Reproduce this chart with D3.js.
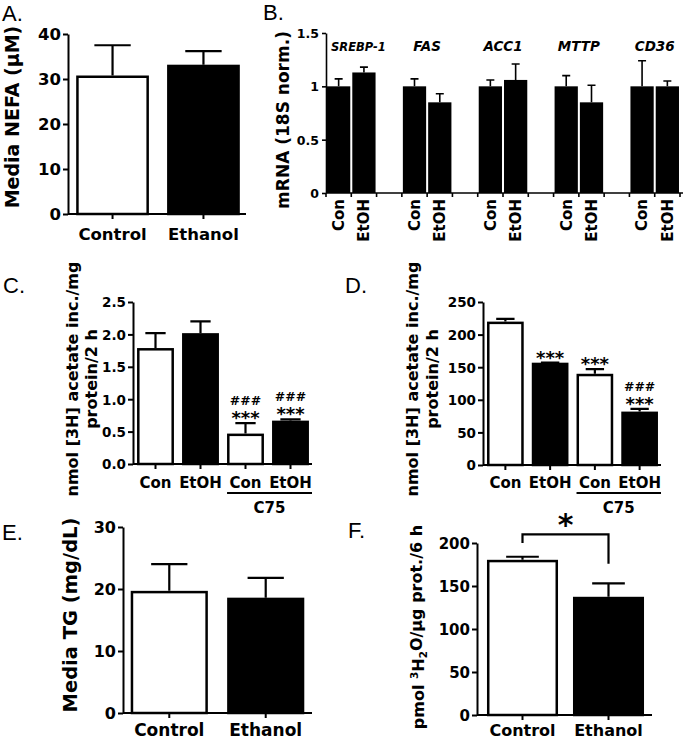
<!DOCTYPE html>
<html><head><meta charset="utf-8">
<script src="https://cdn.jsdelivr.net/npm/d3@7"></script>
<style>
html,body{margin:0;padding:0;background:#fff;}
svg{display:block;}
text{font-family:"DejaVu Sans",sans-serif;font-weight:bold;fill:#000;}
text.letter{font-family:"Liberation Sans",Arial,sans-serif;font-weight:normal;font-size:22px;}
</style></head><body>
<svg id="fig" width="685" height="742"></svg>
<script>
// ---------- DATA ----------
// Panel A: Media NEFA (uM)
const catsA = ["Control", "Ethanol"];
const valsA = [30.5, 32.9];
const errA = [37.5, 36.2];
const ticksA = [0, 10, 20, 30, 40];
// Panel B: mRNA (18S norm.)
const genesB = ["SREBP-1", "FAS", "ACC1", "MTTP", "CD36"];
const groupsB = ["Con", "EtOH"];
const conB = [1.0, 1.0, 1.0, 1.0, 1.0];
const conErrB = [1.07, 1.07, 1.06, 1.10, 1.24];
const etohB = [1.13, 0.85, 1.06, 0.85, 1.0];
const etohErrB = [1.18, 0.93, 1.21, 1.01, 1.05];
const ticksB = [0, 0.5, 1, 1.5];
// Panels C & D
const catsCD = ["Con", "EtOH", "Con", "EtOH"];
const groupLabelCD = "C75";
const valsC = [1.77, 2.0, 0.45, 0.65];
const errC = [2.02, 2.2, 0.63, 0.69];
const ticksC = [0, 0.5, 1.0, 1.5, 2.0, 2.5];
const annotC = [[], [], ["###", "***"], ["###", "***"]];
const valsD = [218, 155, 138, 80];
const errD = [224, 157, 147, 86];
const ticksD = [0, 50, 100, 150, 200, 250];
const annotD = [[], ["***"], ["***"], ["###", "***"]];
// Panel E: Media TG (mg/dL)
const catsE = ["Control", "Ethanol"];
const valsE = [19.5, 18.4];
const errE = [24.0, 21.8];
const ticksE = [0, 10, 20, 30];
// Panel F
const catsF = ["Control", "Ethanol"];
const valsF = [179, 136];
const errF = [184, 153];
const ticksF = [0, 50, 100, 150, 200];
const bracketF = { top: 210, left: 200, right: 176, label: "*" };

const fillsTwo = ["#fff", "#000"];
const fillsFour = ["#fff", "#000", "#fff", "#000"];

// ---------- DRAW ----------
const svg = d3.select("#fig");

function vtitle(lines, cx, cy, size, gap) {
  lines.forEach((ln, k) => {
    const t = svg.append("text")
      .attr("transform", `translate(${cx + k * gap},${cy}) rotate(-90)`)
      .attr("text-anchor", "middle").attr("dy", "0.36em")
      .attr("font-size", size);
    if (typeof ln === "string") t.text(ln);
    else ln(t);
  });
}
function letter(s, x, y) {
  svg.append("text").attr("class", "letter").attr("x", x).attr("y", y).text(s);
}

function simplePanel(o) {
  const g = svg.append("g");
  const y = d3.scaleLinear().domain([0, o.max]).range([o.y0, o.y1]);
  const x = d3.scaleBand().domain(d3.range(o.vals.length))
    .range([o.axisX, o.xEnd]).paddingInner(o.pi).paddingOuter(o.po);
  const bw = x.bandwidth(), sw = o.sw;
  g.append("line").attr("x1", o.axisX).attr("x2", o.lineEnd)
    .attr("y1", y(0)).attr("y2", y(0)).attr("stroke", "#000").attr("stroke-width", o.aw);
  g.selectAll("rect.bar").data(o.vals).join("rect").attr("class", "bar")
    .attr("x", (d, i) => x(i) + sw / 2).attr("width", bw - sw)
    .attr("y", d => y(d)).attr("height", d => y(0) - y(d))
    .attr("fill", (d, i) => o.fills[i]).attr("stroke", "#000").attr("stroke-width", sw);
  g.selectAll("path.eb").data(o.errs).join("path").attr("class", "eb")
    .attr("d", (e, i) => {
      const cx = x(i) + bw / 2, c = bw * o.cap / 2;
      return `M${cx},${y(o.vals[i]) - sw / 2}V${y(e)}M${cx - c},${y(e)}H${cx + c}`;
    })
    .attr("stroke", "#000").attr("stroke-width", o.ew).attr("fill", "none");
  const ya = g.append("g").attr("transform", `translate(${o.axisX},0)`)
    .call(d3.axisLeft(y).tickValues(o.ticks).tickFormat(o.fmt).tickSize(5).tickSizeOuter(0).tickPadding(2));
  ya.select(".domain").attr("stroke-width", o.aw);
  ya.selectAll(".tick line").attr("stroke-width", o.aw);
  ya.selectAll(".tick text").attr("font-size", o.tickFont).attr("font-family", null).attr("dy", "0.36em");
  o.cats.forEach((c, i) => {
    const cx = x(i) + bw / 2;
    g.append("line").attr("x1", cx).attr("x2", cx).attr("y1", y(0)).attr("y2", y(0) + 5)
      .attr("stroke", "#000").attr("stroke-width", o.aw);
    g.append("text").attr("x", cx).attr("y", o.catY).attr("text-anchor", "middle")
      .attr("font-size", o.catFont).text(c);
  });
  if (o.annot) {
    o.annot.forEach((arr, i) => {
      const cx = x(i) + bw / 2;
      const base = y(o.errs[i]) + 1;
      arr.forEach((s, k) => {
        const fromBottom = arr.length - 1 - k;
        g.append("text").attr("x", cx).attr("y", base - fromBottom * 19)
          .attr("text-anchor", "middle")
          .attr("font-size", s.startsWith("#") ? 12.5 : 18).text(s);
      });
    });
  }
  if (o.groupLabel) {
    const x1 = x(2), x2 = o.lineEnd;
    g.append("line").attr("x1", x1).attr("x2", x2).attr("y1", o.groupLineY).attr("y2", o.groupLineY)
      .attr("stroke", "#000").attr("stroke-width", 2);
    g.append("text").attr("x", (x1 + x2) / 2).attr("y", o.groupLabelY).attr("text-anchor", "middle")
      .attr("font-size", o.catFont).text(o.groupLabel);
  }
  if (o.bracket) {
    const b = o.bracket;
    const xl = x(0) + bw / 2, xr = x(1) + bw / 2;
    g.append("path").attr("d", `M${xl},${y(b.left)}V${y(b.top)}H${xr}V${y(b.right)}`)
      .attr("fill", "none").attr("stroke", "#000").attr("stroke-width", 2.2);
    g.append("text").attr("x", (xl + xr) / 2).attr("y", y(b.top) + 1).attr("text-anchor", "middle")
      .attr("font-size", 30).text(b.label);
  }
  return { x, y };
}

const fmtInt = d3.format("d");
const fmt1 = d3.format(".1f");

// Panel A
simplePanel({ vals: valsA, errs: errA, cats: catsA, fills: fillsTwo, ticks: ticksA, fmt: fmtInt,
  max: 40, y0: 214, y1: 34, axisX: 68, xEnd: 248, lineEnd: 246, pi: 0.2, po: 0.09,
  sw: 2.5, aw: 2, ew: 2.2, cap: 0.5, tickFont: 16.5, catFont: 16.5, catY: 240 });
vtitle(["Media NEFA (μM)"], 12, 117, 19, 0);
letter("A.", 2, 21);

// Panel B
(function () {
  const g = svg.append("g");
  const y = d3.scaleLinear().domain([0, 1.5]).range([193, 33]);
  const xo = d3.scaleBand().domain(genesB).range([326, 680]).paddingInner(1 / 3).paddingOuter(0);
  const xi = d3.scaleBand().domain(groupsB).range([0, xo.bandwidth()]).paddingInner(0.08).paddingOuter(0.04);
  const data = [];
  genesB.forEach((gn, k) => {
    data.push({ gene: gn, grp: "Con", v: conB[k], e: conErrB[k] });
    data.push({ gene: gn, grp: "EtOH", v: etohB[k], e: etohErrB[k] });
  });
  g.append("line").attr("x1", 326).attr("x2", 683).attr("y1", y(0)).attr("y2", y(0))
    .attr("stroke", "#000").attr("stroke-width", 1.6);
  g.selectAll("rect").data(data).join("rect")
    .attr("x", d => xo(d.gene) + xi(d.grp)).attr("width", xi.bandwidth())
    .attr("y", d => y(d.v)).attr("height", d => y(0) - y(d.v)).attr("fill", "#000");
  g.selectAll("path.eb").data(data).join("path").attr("class", "eb")
    .attr("d", d => {
      const cx = xo(d.gene) + xi(d.grp) + xi.bandwidth() / 2, c = 4;
      return `M${cx},${y(d.v)}V${y(d.e)}M${cx - c},${y(d.e)}H${cx + c}`;
    }).attr("stroke", "#000").attr("stroke-width", 1.6).attr("fill", "none");
  genesB.forEach(gn => {
    [0, 1, 2].forEach(k => {
      const tx = xo(gn) + k * xi.step();
      g.append("line").attr("x1", tx).attr("x2", tx).attr("y1", y(0)).attr("y2", y(0) + 4)
        .attr("stroke", "#000").attr("stroke-width", 1.6);
    });
  });
  data.forEach(d => {
    const cx = xo(d.gene) + xi(d.grp) + xi.bandwidth() / 2;
    g.append("text").attr("transform", `translate(${cx},199) rotate(-90)`)
      .attr("text-anchor", "end").attr("dy", "0.36em").attr("font-size", 15).text(d.grp);
  });
  genesB.forEach(gn => {
    const t = g.append("text").attr("x", xo(gn) + xo.bandwidth() / 2).attr("y", 51)
      .attr("text-anchor", "middle").attr("font-style", "italic")
      .attr("font-size", gn.length > 5 ? 11.5 : 13.5).text(gn);
    const bb = t.node().getBBox();
    if (bb.x < 331) t.attr("x", +t.attr("x") + (331 - bb.x));
  });
  const ya = g.append("g").attr("transform", "translate(326,0)")
    .call(d3.axisLeft(y).tickValues(ticksB).tickFormat(d3.format("~g")).tickSize(4).tickSizeOuter(0).tickPadding(3));
  ya.select(".domain").attr("stroke-width", 1.6);
  ya.selectAll(".tick line").attr("stroke-width", 1.6);
  ya.selectAll(".tick text").attr("font-size", 12.5).attr("font-family", null).attr("dy", "0.36em");
})();
vtitle(["mRNA (18S norm.)"], 283, 120, 17, 0);
letter("B.", 263, 20);

// Panel C
simplePanel({ vals: valsC, errs: errC, cats: catsCD, fills: fillsFour, ticks: ticksC, fmt: fmt1,
  max: 2.5, y0: 464, y1: 302, axisX: 133, xEnd: 313, lineEnd: 312, pi: 0.18, po: 0.09,
  sw: 2.5, aw: 2, ew: 2.2, cap: 0.55, tickFont: 13.5, catFont: 15, catY: 488,
  annot: annotC, groupLabel: groupLabelCD, groupLineY: 493, groupLabelY: 513 });
vtitle(["nmol [3H] acetate inc./mg", "protein/2 h"], 72, 379, 16, 19);
letter("C.", 3, 293);

// Panel D
simplePanel({ vals: valsD, errs: errD, cats: catsCD, fills: fillsFour, ticks: ticksD, fmt: fmtInt,
  max: 250, y0: 465, y1: 302, axisX: 483, xEnd: 662, lineEnd: 661, pi: 0.18, po: 0.09,
  sw: 2.5, aw: 2, ew: 2.2, cap: 0.5, tickFont: 13.5, catFont: 15, catY: 488,
  annot: annotD, groupLabel: groupLabelCD, groupLineY: 493, groupLabelY: 513 });
vtitle(["nmol [3H] acetate inc./mg", "protein/2 h"], 412, 379, 16, 20);
letter("D.", 345, 293);

// Panel E
simplePanel({ vals: valsE, errs: errE, cats: catsE, fills: fillsTwo, ticks: ticksE, fmt: fmtInt,
  max: 30, y0: 713, y1: 527, axisX: 123, xEnd: 312, lineEnd: 312, pi: 0.2, po: 0.08,
  sw: 2.5, aw: 2, ew: 2.2, cap: 0.47, tickFont: 16, catFont: 17, catY: 736 });
vtitle(["Media TG (mg/dL)"], 70, 615, 19.5, 0);
letter("E.", 2, 540);

// Panel F
simplePanel({ vals: valsF, errs: errF, cats: catsF, fills: fillsTwo, ticks: ticksF, fmt: fmtInt,
  max: 200, y0: 715, y1: 543, axisX: 477, xEnd: 654, lineEnd: 652, pi: 0.174, po: 0.116,
  sw: 2.5, aw: 2, ew: 2.2, cap: 0.46, tickFont: 15, catFont: 16, catY: 736, bracket: bracketF });
vtitle([t => {
  t.append("tspan").text("pmol ");
  t.append("tspan").attr("font-size", "0.65em").attr("dy", "-0.55em").text("3");
  t.append("tspan").attr("dy", "0.36em").text("H");
  t.append("tspan").attr("font-size", "0.65em").attr("dy", "0.3em").text("2");
  t.append("tspan").attr("dy", "-0.3em").text("O/μg prot./6 h");
}], 418, 627, 16, 0);
letter("F.", 348, 538);
</script>
</body></html>
